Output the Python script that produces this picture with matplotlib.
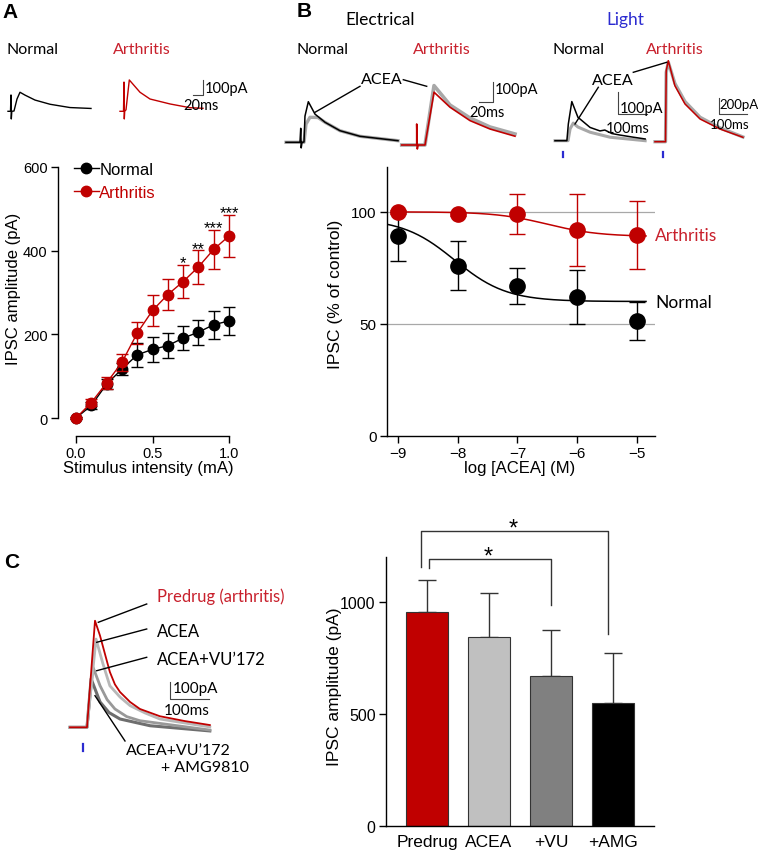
import numpy as np
import matplotlib.pyplot as plt
from matplotlib.lines import Line2D

plt.rcParams['font.family'] = ['Liberation Sans', 'DejaVu Sans']

W, H = 758, 853
RED = '#c00000'
TRED = '#c8202c'
BLUE = '#2b2bd0'
CAL = ['Lato', 'DejaVu Sans']

# ---- panel A: input-output ----
stim = [0.0, 0.1, 0.2, 0.3, 0.4, 0.5, 0.6, 0.7, 0.8, 0.9, 1.0]
norm_amp = [0, 30, 81, 117, 151, 164, 173, 191, 205, 223, 232]
norm_err = [3, 8, 12, 15, 28, 29, 29, 29, 30, 33, 33]
arth_amp = [0, 37, 84, 133, 203, 257, 295, 326, 361, 403, 435]
arth_err = [3, 8, 15, 20, 27, 38, 38, 40, 40, 47, 50]
sig_x = [0.7, 0.8, 0.9, 1.0]
sig_lab = ['*', '**', '***', '***']

# ---- panel B: concentration-response ----
log_acea = [-9, -8, -7, -6, -5]
norm_pct = [89, 76, 67, 62, 51.5]
norm_pct_err = [11, 11, 8, 12, 8.5]
arth_pct = [100, 99, 99, 92, 89.7]
arth_pct_err = [1, 1, 9, 16, 15]
# sigmoid fits: top, bottom, logIC50, hill slope
norm_fit = (97, 60, -8.05, 1.0)
arth_fit = (100, 89, -6.5, 1.0)

# ---- panel C: bars ----
drugs = ['Predrug', 'ACEA', '+VU', '+AMG']
drug_amp = [955, 844, 667, 549]
drug_err = [143, 196, 209, 223]
drug_col = ['#c00000', '#c0c0c0', '#808080', '#000000']

# ---- example traces (ms, pA) ----
a_norm_t = [0, 5, 6, 6.6, 7.6, 12, 18, 24, 34, 54, 84, 124, 166]
a_norm_i = [0, 0, 109, -51, 0, 2, 82, 127, 108, 75, 47, 25, 19]
a_arth_t = [0, 7, 8, 8.6, 9.4, 12, 18.6, 40, 60, 100, 140, 166]
a_arth_i = [0, 0, 195, -51, 0, 10, 209, 127, 82, 49, 24, 20]

e_norm_t = [0, 20.4, 21.5, 22.2, 23.4, 26.3, 27.7, 32.6, 42.3, 57, 78.8, 108, 163.5]
e_norm_i = [0, 0, 70, -28, 0, 1.5, 131, 203, 141, 100, 58, 30, 8]
e_norm_acea_t = [0, 26.3, 29.2, 35, 46.7, 57, 78.8, 108, 163.5]
e_norm_acea_i = [0, 0, 91, 125, 124, 100, 58, 30, 8]
e_arth_t = [0, 21.9, 21.9, 22.8, 23.8, 34, 47.2, 70.5, 99.7, 128.9, 165.4]
e_arth_i = [0, 0, 105, -20, 0, 0, 264, 189, 122, 80, 44]
e_arth_acea_t = [0, 34, 47.2, 70.5, 99.7, 128.9, 165.4]
e_arth_acea_i = [0, 0, 297, 200, 135, 90, 55]

l_norm_t = [0, 41, 46, 58, 79, 121, 155, 172, 196, 224, 266, 311]
l_norm_i = [0, 0, 77, 180, 108, 61, 45, 49, 33, 26, 17, 8]
l_norm_acea_t = [0, 45, 52, 63, 79, 121, 190, 311]
l_norm_acea_i = [0, 0, 54, 81, 63, 39, 16, 0]
l_arth_t = [0, 37.5, 40, 47.5, 71, 107, 161, 232, 314]
l_arth_i = [0, 0, 900, 1029, 711, 479, 288, 161, 56]
l_arth_acea_t = [0, 37.5, 40, 47.5, 71, 107, 161, 232, 314]
l_arth_acea_i = [0, 0, 880, 1010, 740, 510, 310, 175, 60]

c_pre_t = [0, 43.5, 64, 76.8, 89.6, 102, 115, 128, 154, 179, 230, 294, 358]
c_pre_i = [0, 0, 616, 530, 423, 320, 248, 204, 146, 106, 64, 36, 13]
c_acea_t = [0, 43.5, 66.6, 84.5, 102, 128, 154, 192, 230, 358]
c_acea_i = [0, 0, 510, 366, 240, 175, 125, 83, 48, 2]
c_vu_t = [0, 43.5, 59, 77, 95, 115, 145, 179, 358]
c_vu_i = [0, 0, 347, 240, 160, 106, 62, 38, -16]
c_amg_t = [0, 43.5, 54, 77, 100, 128, 205, 358]
c_amg_i = [0, 0, 280, 146, 85, 48, 9, -21]

fig = plt.figure(figsize=(W / 100, H / 100), dpi=100)


def px_axes(l, t, r, b):
    return fig.add_axes([l / W, 1 - b / H, (r - l) / W, (b - t) / H])


def style(ax, fs):
    ax.spines['top'].set_visible(False)
    ax.spines['right'].set_visible(False)
    for s in ['left', 'bottom']:
        ax.spines[s].set_linewidth(1.0)
    ax.tick_params(direction='out', length=5, width=1, pad=2.5, labelsize=fs)
    ax.patch.set_alpha(0)


# ---------------- A ----------------
axA = px_axes(58, 160, 240, 437)
axA.errorbar(stim, norm_amp, yerr=norm_err, color='k', marker='o', ms=7.5,
             lw=1, capsize=4.5, elinewidth=1, capthick=1, zorder=3)
axA.errorbar(stim, arth_amp, yerr=arth_err, color=RED, marker='o', ms=7.5,
             lw=1, capsize=4.5, elinewidth=1, capthick=1, zorder=4)
for x, lab in zip(sig_x, sig_lab):
    k = stim.index(x)
    axA.text(x, arth_amp[k] + arth_err[k] - 6, lab, ha='center', va='baseline',
             fontsize=12)
axA.set_xlim(-0.118, 1.072)
axA.set_ylim(-43, 619)
axA.spines['left'].set_bounds(0, 600)
axA.spines['bottom'].set_bounds(0, 1)
axA.set_xticks([0, 0.5, 1.0])
axA.set_xticklabels(['0.0', '0.5', '1.0'])
axA.set_yticks([0, 200, 400, 600])
style(axA, 10.5)
axA.set_xlabel('Stimulus intensity (mA)', fontsize=12)
axA.set_ylabel('IPSC amplitude (pA)', fontsize=12)
axA.xaxis.set_label_coords(0.495, -0.088)
axA.yaxis.set_label_coords(-0.205, 0.535)
handles = [Line2D([], [], color='k', marker='o', ms=7.5, lw=1),
           Line2D([], [], color=RED, marker='o', ms=7.5, lw=1)]
axA.legend(handles, ['Normal', 'Arthritis'], loc='upper left',
           bbox_to_anchor=(0.04, 1.02), frameon=False, fontsize=12,
           handlelength=1.5, handletextpad=0.05, labelspacing=0.5,
           borderpad=0, labelcolor=['k', RED])

# ---------------- B ----------------
axB = px_axes(387, 168, 655, 437)
for yl in [50, 100]:
    axB.axhline(yl, color='#a8a8a8', lw=0.9, zorder=0)
xf = np.linspace(-9.18, -4.85, 200)
for fit, col in [(norm_fit, 'k'), (arth_fit, RED)]:
    top, bot, c, h = fit
    x0 = -9.18 if col == 'k' else -9
    xx = xf[xf >= x0]
    axB.plot(xx, bot + (top - bot) / (1 + 10 ** ((xx - c) * h)), color=col, lw=1.1, zorder=2)
axB.errorbar(log_acea, norm_pct, yerr=norm_pct_err, fmt='o', color='k', ms=11,
             capsize=6, elinewidth=1, capthick=1, zorder=3)
axB.errorbar(log_acea, arth_pct, yerr=arth_pct_err, fmt='o', color=RED, ms=11,
             capsize=6, elinewidth=1, capthick=1, zorder=4)
axB.set_xlim(-9.18, -4.70)
axB.set_ylim(0, 120)
axB.spines['left'].set_bounds(0, 120)
axB.set_xticks(log_acea)
axB.set_yticks([0, 50, 100])
style(axB, 11)
axB.set_xlabel('log [ACEA] (M)', fontsize=12)
axB.set_ylabel('IPSC (% of control)', fontsize=12.5)
axB.xaxis.set_label_coords(0.496, -0.09)
axB.yaxis.set_label_coords(-0.165, 0.53)
axB.text(-4.70, 89.5, 'Arthritis', color=TRED, family=CAL, fontsize=12.5,
         va='center', ha='left', clip_on=False)
axB.text(-4.70, 60, 'Normal', color='k', family=CAL, fontsize=12.5,
         va='center', ha='left', clip_on=False)

# ---------------- C ----------------
axC = px_axes(386, 522, 654, 827)
xc = np.arange(len(drugs))
axC.bar(xc, drug_amp, width=0.68, color=drug_col, edgecolor='#333333', lw=0.8, zorder=2)
axC.errorbar(xc, drug_amp, yerr=[np.zeros(len(drugs)), drug_err], fmt='none',
             ecolor='#333333', elinewidth=1, capsize=6.5, capthick=1, zorder=1)
axC.set_xlim(-0.66, 3.66)
axC.set_ylim(0, 1360)
axC.spines['left'].set_bounds(0, 1200)
axC.set_yticks([0, 500, 1000])
axC.set_xticks(xc)
axC.set_xticklabels(drugs)
style(axC, 11.5)
axC.tick_params(axis='x', length=0, pad=6, labelsize=12.5)
axC.set_ylabel('IPSC amplitude (pA)', fontsize=12.5)
axC.yaxis.set_label_coords(-0.165, 0.46)
# significance brackets: x left, x right, y top, y left end, y right end, star y
for xl, xr, yt, yle, yre, ys in [(-0.1, 2.92, 1317, 1156, 857, 1300),
                                 (0.03, 2.0, 1192, 1152, 987, 1175)]:
    axC.plot([xl, xl, xr, xr], [yle, yt, yt, yre], color='#333333', lw=1, clip_on=False)
    axC.text((xl + xr) / 2 - 0.02, ys, '*', ha='center', va='baseline', fontsize=17)

# ---------------- overlay: traces, scale bars, labels ----------------
ov = fig.add_axes([0, 0, 1, 1], zorder=10)
ov.set_xlim(0, W)
ov.set_ylim(H, 0)
ov.axis('off')


def trace(t, i, x0, y0, sx, sy, **kw):
    ov.plot(x0 + np.array(t) / sx, y0 - np.array(i) / sy, **kw)


def scalebar(x, y, ms, pa, sx, sy, left=True):
    h, v = ms / sx, pa / sy
    if left:
        ov.plot([x - h, x, x], [y, y, y - v], color='#444444', lw=0.8)
    else:
        ov.plot([x, x, x + h], [y - v, y, y], color='#444444', lw=0.8)


def txt(x, y, s, **kw):
    kw.setdefault('family', CAL)
    kw.setdefault('fontsize', 11.5)
    kw.setdefault('va', 'center')
    ov.text(x, y, s, **kw)


def pointer(x1, y1, x2, y2):
    ov.plot([x1, x2], [y1, y2], color='k', lw=1)


# panel letters
for x, y, s in [(2, 12, 'A'), (297, 11, 'B'), (4, 563, 'C')]:
    ov.text(x, y, s, fontsize=15, fontweight='bold', va='center', ha='left')

# A traces
trace(a_norm_t, a_norm_i, 8, 112.3, 2, 6.67, color='k', lw=1)
trace(a_arth_t, a_arth_i, 120, 112.3, 2, 6.67, color=RED, lw=1)
scalebar(203, 96, 20, 100, 2, 6.67)
txt(33, 50, 'Normal', ha='center')
txt(142, 50, 'Arthritis', ha='center', color=TRED)
txt(205, 89, '100pA', fontsize=10.5)
txt(201, 106, '20ms', ha='center', fontsize=10.5)

# B electrical traces
trace(e_norm_acea_t, e_norm_acea_i, 286, 143.3, 1.46, 5, color='#a8a8a8', lw=2.4)
trace(e_norm_t, e_norm_i, 286, 143.3, 1.46, 5, color='k', lw=1.1)
trace(e_arth_acea_t, e_arth_acea_i, 401.7, 146, 1.46, 5, color='#a8a8a8', lw=2.6)
trace(e_arth_t, e_arth_i, 401.7, 146, 1.46, 5, color=RED, lw=1.2)
scalebar(493, 103.3, 20, 100, 1.46, 5)
txt(380, 20, 'Electrical', ha='center', fontsize=12.5)
txt(322, 50, 'Normal', ha='center')
txt(442, 50, 'Arthritis', ha='center', color=TRED)
txt(382, 80, 'ACEA', ha='center')
pointer(360, 87.3, 315, 113.3)
pointer(403.3, 80.7, 426.7, 87.3)
txt(495, 90, '100pA', fontsize=10.5)
txt(487, 112.5, '20ms', ha='center', fontsize=10.5)

# B light traces
trace(l_norm_acea_t, l_norm_acea_i, 555, 141.7, 3.45, 4.6, color='#a8a8a8', lw=2.2)
trace(l_norm_t, l_norm_i, 555, 141.7, 3.45, 4.6, color='k', lw=1.1)
trace(l_arth_acea_t, l_arth_acea_i, 655, 142.7, 3.57, 12.7, color='#a8a8a8', lw=2.4)
trace(l_arth_t, l_arth_i, 655, 142.7, 3.57, 12.7, color=RED, lw=1.1)
scalebar(618.3, 115, 100, 100, 3.45, 4.6, left=False)
scalebar(719, 115, 100, 200, 3.57, 12.7, left=False)
txt(625, 20, 'Light', ha='center', fontsize=12.5, color=BLUE)
txt(578, 50, 'Normal', ha='center')
txt(675, 50, 'Arthritis', ha='center', color=TRED)
txt(613, 81, 'ACEA', ha='center')
pointer(633.3, 73.3, 666.7, 63.3)
pointer(598.3, 88.3, 575, 125)
txt(620, 109, '100pA', fontsize=10.5)
txt(628, 128.5, '100ms', ha='center', fontsize=10.5)
txt(719.5, 105, '200pA', fontsize=9.5)
txt(730, 125, '100ms', ha='center', fontsize=9.5)
for x in [563, 663]:
    ov.plot([x, x], [152.5, 158], color=BLUE, lw=1.6)

# C traces
trace(c_amg_t, c_amg_i, 70, 728.3, 2.56, 5.78, color='#6e6e6e', lw=2.2)
trace(c_vu_t, c_vu_i, 70, 728.3, 2.56, 5.78, color='#999999', lw=2.0)
trace(c_acea_t, c_acea_i, 70, 728.3, 2.56, 5.78, color='#b8b8b8', lw=2.0)
trace(c_pre_t, c_pre_i, 70, 728.3, 2.56, 5.78, color=RED, lw=1.3)
scalebar(170, 700, 100, 100, 2.56, 5.78, left=False)
ov.plot([83, 83], [744.5, 752], color=BLUE, lw=1.6)
txt(157, 597, 'Predrug (arthritis)', color=TRED, fontsize=12)
txt(157, 632, 'ACEA', fontsize=12)
txt(157, 660, 'ACEA+VU\u2019172', fontsize=12)
txt(173, 689, '100pA', fontsize=11)
txt(187, 711, '100ms', ha='center', fontsize=11)
txt(126, 751, 'ACEA+VU\u2019172', fontsize=11.5)
txt(161, 768, '+ AMG9810', fontsize=11.5)
pointer(146.7, 605, 98.3, 623.3)
pointer(146.7, 630, 96.7, 643.3)
pointer(146.7, 658.3, 96.7, 671.7)
pointer(125, 742, 95, 696.7)

fig.savefig('out.png', dpi=100)
